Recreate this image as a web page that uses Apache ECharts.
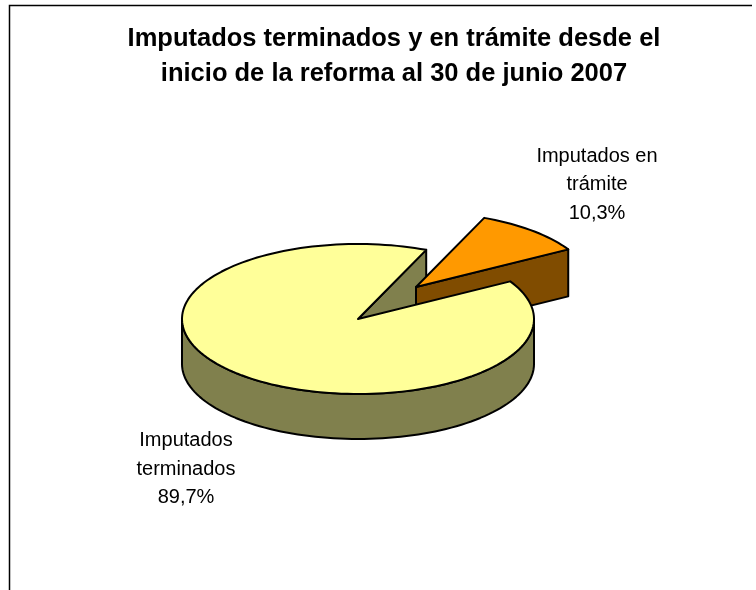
<!DOCTYPE html>
<html><head><meta charset="utf-8">
<style>html,body{margin:0;padding:0;background:#fff}#c{width:756px;height:590px}</style>
<script src="https://cdn.jsdelivr.net/npm/echarts@6/dist/echarts.min.js"></script>
</head><body><div id="c"></div>
<script>
const categories = ['Imputados en trámite', 'Imputados terminados'];
const labelLines = [['Imputados en', 'trámite'], ['Imputados', 'terminados']];
const values = [10.3, 89.7];
const topColors = ['#FF9900', '#FFFF99'];
const wallColors = ['#804C00', '#80804D'];
const titleLines = ['Imputados terminados y en trámite desde el', 'inicio de la reforma al 30 de junio 2007'];

const chart = echarts.init(document.getElementById('c'), null, {renderer: 'canvas'});
const G = {cx: 358, cy: 319, a: 176, b: 75, depth: 45, startDeg: 67.2, ex: 58, ey: -32};
const FONT = '"Liberation Sans", Arial, sans-serif';
const LINE = {stroke: '#000', lineWidth: 2, lineJoin: 'round'};
const total = values.reduce((s, v) => s + v, 0);
const rad = d => d * Math.PI / 180;
const pt = (deg, dx, dy) => [G.cx + dx + G.a * Math.cos(rad(deg)), G.cy + dy - G.b * Math.sin(rad(deg))];
function arc(from, to, dx, dy) {
  const n = Math.max(2, Math.ceil(Math.abs(to - from) / 2)), out = [];
  for (let i = 0; i <= n; i++) out.push(pt(from + (to - from) * i / n, dx, dy));
  return out;
}
const poly = (points, fill, z2) => ({type: 'polygon', z2, shape: {points}, style: {fill, ...LINE}});

function renderItem(params, api) {
  const i = params.dataIndex;
  const sweep = api.value(0) / total * 360;
  let begin = G.startDeg;
  for (let k = 0; k < i; k++) begin -= values[k] / total * 360;
  const end = begin - sweep;
  const exploded = i === 0;
  const dx = exploded ? G.ex : 0, dy = exploded ? G.ey : 0;
  const apex = [G.cx + dx, G.cy + dy];
  const down = p => [p[0], p[1] + G.depth + (exploded ? 2 : 0)];
  const top = poly([apex, ...arc(begin, end, dx, dy)], topColors[i], exploded ? 20 : 40);
  const children = [];
  const e = pt(end, dx, dy);
  if (exploded) {
    children.push(poly([apex, e, down(e), down(apex)], wallColors[i], 15));
  } else {
    children.push(poly([apex, e, down(e), down(apex)], wallColors[i], 10));
    const front = arc(0, -180, 0, 0);
    children.push(poly([...front, ...front.slice().reverse().map(down)], wallColors[i], 30));
  }
  children.push(top);
  const labelPos = exploded ? [597, 184.5] : [186, 469];
  const pct = api.value(0).toFixed(1).replace('.', ',') + '%';
  children.push({type: 'text', z2: 50, style: {
    x: labelPos[0], y: labelPos[1], text: [...labelLines[i], pct].join('\n'),
    font: '20px ' + FONT, fill: '#000', align: 'center', verticalAlign: 'middle', lineHeight: 28.5
  }});
  return {type: 'group', children};
}

chart.setOption({
  animation: false,
  backgroundColor: '#fff',
  title: {
    text: titleLines.join('\n'), left: 389, top: 16, textAlign: 'center',
    textStyle: {fontFamily: FONT, fontWeight: 'bold', fontSize: 25.5, lineHeight: 35, color: '#000'}
  },
  graphic: [{type: 'polyline', silent: true, z: -1, shape: {points: [[9.5, 590], [9.5, 5.5], [752, 5.5]]},
    style: {stroke: '#000', lineWidth: 1.5, fill: null}}],
  series: [{
    type: 'custom', coordinateSystem: 'none', renderItem,
    data: values.map((v, i) => ({name: categories[i], value: [v]}))
  }]
});
</script></body></html>
